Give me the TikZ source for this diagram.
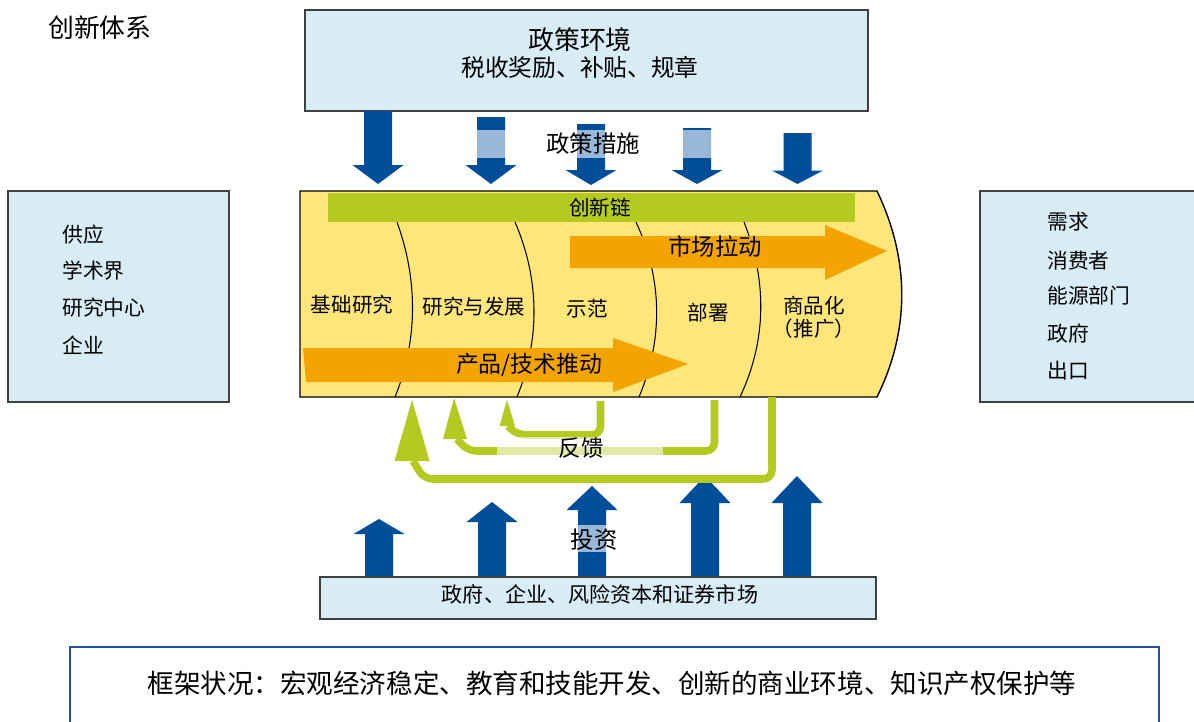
\documentclass[tikz,border=0pt]{standalone}
\usepackage{fontspec}
\setmainfont{Noto Sans CJK SC}
\definecolor{boxblue}{RGB}{215,236,245}
\definecolor{darkarr}{RGB}{0,77,153}
\definecolor{chaingreen}{RGB}{181,202,32}
\definecolor{chainyellow}{RGB}{255,230,122}
\definecolor{pushorange}{RGB}{244,164,0}
\definecolor{frameblue}{RGB}{31,82,160}
\definecolor{boxline}{RGB}{64,64,64}
\newcommand{\blockarr}[4]{\fill[darkarr] ({#1-14},#2) -- ({#1+14},#2) -- ({#1+14},#3) -- ({#1+25.5},#3) -- (#1,#4) -- ({#1-25.5},#3) -- ({#1-14},#3) -- cycle;}
\tikzset{
  lab/.style={inner sep=0pt, font=\fontsize{#1}{#1}\selectfont},
  infobox/.style={fill=boxblue, draw=boxline, line width=0.8pt},
  fb/.style={draw=chaingreen, line width=4.3pt, rounded corners=5pt},
  veil/.style={fill=white, fill opacity=0.6},
  divider/.style={draw=black, line width=0.6pt}
}
\begin{document}
\begin{tikzpicture}[x=0.02cm, y=-0.02cm]
\useasboundingbox (0,0) rectangle (1194,721);
% title
\node[lab=14.7pt] (title) at (100,28) {创新体系};
% top box
\draw[infobox] (305,10) rectangle (868,111);
\node[lab=14.7pt] (env) at (580,40) {政策环境};
\node[lab=13.5pt] (envsub) at (580,67) {税收奖励、补贴、规章};
% policy arrows
\blockarr{378}{111}{165}{184}
\blockarr{491}{117}{165}{184}
\blockarr{591}{124}{170}{185}
\blockarr{697}{128}{170}{184}
\blockarr{797.5}{133}{170.5}{184}
\fill[veil] (470,130) rectangle (716,158);
\node[lab=13.3pt] (measures) at (593,144) {政策措施};
% left and right boxes
\draw[infobox] (8,191) rectangle (229,402);
\node[lab=11.8pt, anchor=west] (s1) at (62,235) {供应};
\node[lab=11.8pt, anchor=west] (s2) at (62,271) {学术界};
\node[lab=11.8pt, anchor=west] (s3) at (62,308) {研究中心};
\node[lab=11.8pt, anchor=west] (s4) at (62,345) {企业};
\draw[infobox] (980,191) rectangle (1210,402);
\node[lab=11.8pt, anchor=west] (d1) at (1047,222) {需求};
\node[lab=11.8pt, anchor=west] (d2) at (1047,261) {消费者};
\node[lab=11.8pt, anchor=west] (d3) at (1047,296) {能源部门};
\node[lab=11.8pt, anchor=west] (d4) at (1047,334) {政府};
\node[lab=11.8pt, anchor=west] (d5) at (1047,371) {出口};
% innovation chain
\fill[chainyellow] (300,191) -- (877,191) .. controls (910,260) and (910,330) .. (877,397) -- (300,397) -- cycle;
\draw[divider] (397,222) .. controls (418,280) and (418,340) .. (395,397);
\draw[divider] (515,222) .. controls (540,280) and (540,340) .. (517,397);
\draw[divider] (636,222) .. controls (663,280) and (663,340) .. (639,397);
\draw[divider] (744,222) .. controls (767,280) and (767,340) .. (740,397);
\fill[chaingreen] (328,193) rectangle (855,222);
\node[lab=11.7pt] (chain) at (600,208) {创新链};
\fill[pushorange] (570,236) -- (825,236) -- (825,225) -- (887,251) -- (825,280) -- (825,268) -- (570,268) -- cycle;
\node[lab=13.3pt] (pull) at (715,247) {市场拉动};
\fill[pushorange] (303,348) -- (613,348) -- (613,338) -- (688,364) -- (613,392) -- (613,382) -- (306,382) -- cycle;
\node[lab=13pt] (push) at (529,365) {产品/技术推动};
\node[lab=11.7pt] (c1) at (352,305) {基础研究};
\node[lab=11.7pt] (c2) at (474,307) {研究与发展};
\node[lab=11.7pt] (c3) at (587,309) {示范};
\node[lab=11.7pt] (c4) at (708,313) {部署};
\node[lab=11.7pt] (c5) at (814,306) {商品化};
\node[lab=11.7pt] (c5b) at (814,329) {（推广）};
\draw[black, line width=0.8pt] (300,191) -- (877,191) .. controls (910,260) and (910,330) .. (877,397) -- (300,397) -- cycle;
% investment arrows
\blockarr{379}{577}{534}{519}
\blockarr{492}{577}{522}{502}
\blockarr{592}{577}{510}{486}
\blockarr{705}{577}{503}{476}
\blockarr{797}{577}{503}{476}
\fill[veil] (572,525) rectangle (617,552);
\node[lab=13.3pt] (invest) at (594,540) {投资};
% feedback loops
\draw[fb] (772,397) -- (772,479) -- (424,479) -- (413,461);
\fill[chaingreen] (394.5,461) -- (429.5,461) -- (412,400) -- cycle;
\draw[fb] (714.5,400) -- (714.5,451) -- (468,451) -- (457,439);
\fill[chaingreen] (443,439) -- (467,439) -- (454,398) -- cycle;
\draw[fb] (600.5,401) -- (600.5,435) -- (517,435) -- (508,426);
\fill[chaingreen] (499.5,426) -- (515,426) -- (507,400) -- cycle;
\fill[veil] (497,437) rectangle (663,458);
\node[lab=12.8pt] (feedback) at (581,447.5) {反馈};
% bottom box
\draw[infobox] (320,577) rectangle (876,619);
\node[lab=12pt] (funders) at (600,594) {政府、企业、风险资本和证券市场};
% framework conditions
\draw[frameblue, line width=1.4pt] (70,647) rectangle (1159,740);
\node[lab=15.1pt] (frame) at (612,683) {框架状况：宏观经济稳定、教育和技能开发、创新的商业环境、知识产权保护等};
\end{tikzpicture}
\end{document}
